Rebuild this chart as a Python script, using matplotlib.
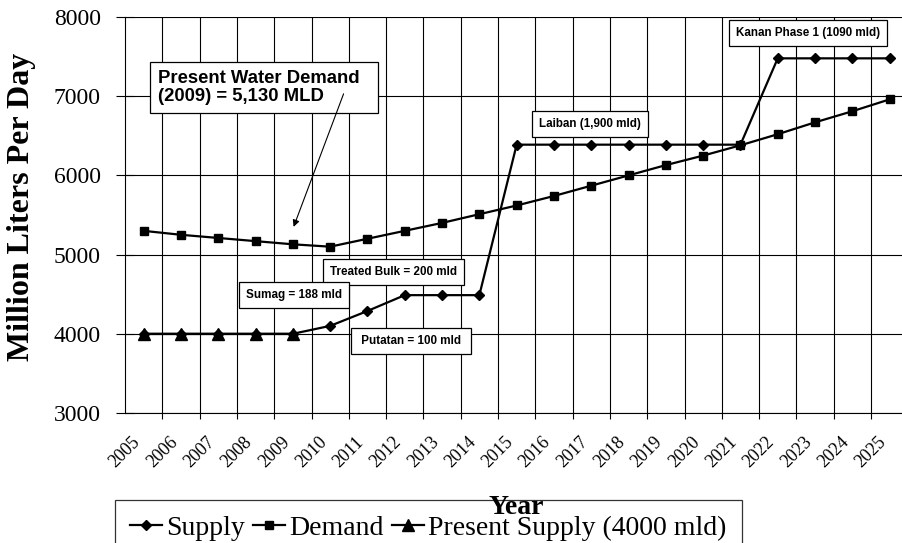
import numpy as np
from matplotlib import pyplot as plt
from matplotlib.transforms import ScaledTranslation

years = [str(y) for y in range(2005, 2026)]
supply = [4000, 4000, 4000, 4000, 4000, 4100, 4288, 4488, 4488, 4488, 6388,
          6388, 6388, 6388, 6388, 6388, 6388, 7478, 7478, 7478, 7478]
demand = [5300, 5250, 5210, 5170, 5130, 5100, 5200, 5300, 5400, 5510, 5620,
          5740, 5870, 6000, 6130, 6250, 6380, 6520, 6670, 6810, 6960]
present_supply = [4000, 4000, 4000, 4000, 4000]

yticks = [3000, 4000, 5000, 6000, 7000, 8000]

serif = 'Liberation Serif'
sans = 'Liberation Sans'

fig = plt.figure(figsize=(9.02, 5.43), dpi=100, facecolor='white')
ax = fig.add_axes([125/902, 130/543, 783.3/902, 396/543])

x = np.arange(len(years))
ax.plot(x, supply, color='black', lw=1.6, marker='D', ms=5, label='Supply', zorder=3)
ax.plot(x, demand, color='black', lw=1.6, marker='s', ms=6, label='Demand', zorder=3)
ax.plot(x[:len(present_supply)], present_supply, color='black', lw=1.6, marker='^',
        ms=8, label='Present Supply (4000 mld)', zorder=4)

ax.set_xlim(-0.5, len(years) - 0.5)
ax.set_ylim(3000, 8000)

# category axis: labels at centres, ticks + grid at the boundaries
ax.set_xticks(x)
ax.set_xticklabels(years, rotation=45, ha='right', va='top', rotation_mode='anchor',
                   fontfamily=serif, fontsize=13)
ax.tick_params(axis='x', which='major', length=0, pad=15)
shift = ScaledTranslation(-0.12, 0, fig.dpi_scale_trans)
for lab in ax.get_xticklabels():
    lab.set_transform(lab.get_transform() + shift)
ax.set_xticks(x[:-1] + 0.5, minor=True)
ax.tick_params(axis='x', which='minor', direction='out', length=4, width=0.8)

ax.set_yticks(yticks)
ax.set_yticklabels([str(v) for v in yticks], fontfamily=serif, fontsize=17)
ax.tick_params(axis='y', direction='inout', length=13, width=0.8, pad=11)

ax.grid(which='minor', axis='x', color='black', lw=0.8)
ax.grid(which='major', axis='y', color='black', lw=0.8)
for s in ['top', 'right']:
    ax.spines[s].set_visible(False)
for s in ['left', 'bottom']:
    ax.spines[s].set_linewidth(0.8)

fig.text(22/902, 1 - 207/543, 'Million Liters Per Day', rotation=90, ha='center',
         va='center', fontfamily=serif, fontweight='bold', fontsize=23)

# callouts
ax.text(0.38, 7110, 'Present Water Demand  \n(2009) = 5,130 MLD', ha='left', va='center',
        fontfamily=sans, fontweight='bold', fontsize=13.3, linespacing=1.1,
        bbox=dict(boxstyle='square,pad=0.45', fc='white', ec='black', lw=0.9), zorder=5)
ax.annotate('', xy=(4.02, 5350), xytext=(5.36, 7030),
            arrowprops=dict(arrowstyle='-|>', color='black', lw=0.8,
                            mutation_scale=10, shrinkA=0, shrinkB=0), zorder=5)

boxes = [
    (6.70, 4780, 'Treated Bulk = 200 mld'),
    (4.02, 4496, 'Sumag = 188 mld'),
    (7.16, 3903, ' Putatan = 100 mld '),
    (11.96, 6655, 'Laiban (1,900 mld)'),
    (17.80, 7792, 'Kanan Phase 1 (1090 mld)'),
]
for bx, by, txt in boxes:
    ax.text(bx, by, txt, ha='center', va='center', fontfamily=sans, fontweight='bold',
            fontsize=8.4, bbox=dict(boxstyle='square,pad=0.6', fc='white', ec='black', lw=0.9),
            zorder=5)

leg = fig.legend(loc='upper left', bbox_to_anchor=(115/902, 1 - 500/543), ncol=3,
                 prop={'family': serif, 'size': 20}, frameon=True, fancybox=False,
                 edgecolor='black', facecolor='none', handlelength=1.15, handletextpad=0.15,
                 columnspacing=0.3, borderpad=0.55, borderaxespad=0)
leg.get_frame().set_linewidth(0.9)

# drawn after the legend so it sits on top of the frame, as in the original
fig.text(516/902, 1 - 507/543, 'Year', ha='center', va='center',
         fontfamily=serif, fontweight='bold', fontsize=20, zorder=10)

plt.savefig('out.png', dpi=100)
